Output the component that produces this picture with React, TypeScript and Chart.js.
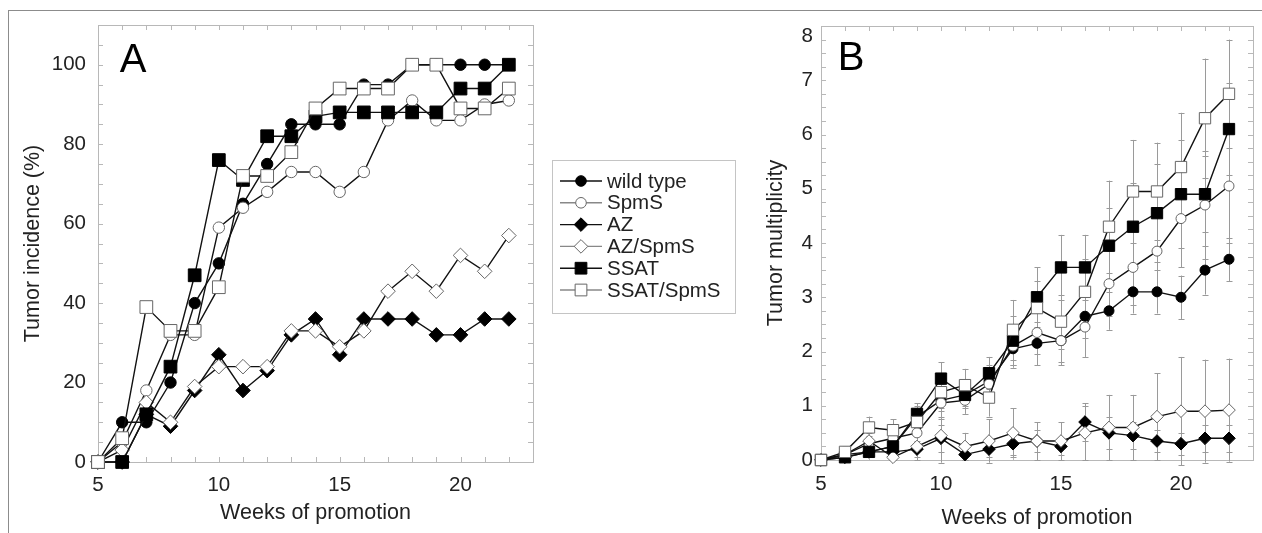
import React, { useEffect, useRef } from 'react';
import { Chart, registerables } from 'chart.js';

Chart.register(...registerables);

// ---------------- data ----------------
const weeks = [5, 6, 7, 8, 9, 10, 11, 12, 13, 14, 15, 16, 17, 18, 19, 20, 21, 22];
const seriesNames = ['wild type', 'SpmS', 'AZ', 'AZ/SpmS', 'SSAT', 'SSAT/SpmS'];

// Panel A: tumor incidence (%)
const incidenceWildType = [0, 10, 10, 20, 40, 50, 65, 75, 85, 85, 85, 95, 95, 100, 100, 100, 100, 100];
const incidenceSpmS = [0, 5, 18, 32, 32, 59, 64, 68, 73, 73, 68, 73, 86, 91, 86, 86, 90, 91];
const incidenceAZ = [0, 0, 12, 9, 18, 27, 18, 23, 32, 36, 27, 36, 36, 36, 32, 32, 36, 36];
const incidenceAZSpmS = [0, 3, 15, 10, 19, 24, 24, 24, 33, 33, 29, 33, 43, 48, 43, 52, 48, 57];
const incidenceSSAT = [0, 0, 12, 24, 47, 76, 71, 82, 82, 87, 88, 88, 88, 88, 88, 94, 94, 100];
const incidenceSSATSpmS = [0, 6, 39, 33, 33, 44, 72, 72, 78, 89, 94, 94, 94, 100, 100, 89, 89, 94];

// Panel B: tumor multiplicity (mean) and error (±)
const multWildType = [0, 0.1, 0.15, 0.25, 0.8, 1.1, 1.2, 1.45, 2.05, 2.15, 2.2, 2.65, 2.75, 3.1, 3.1, 3.0, 3.5, 3.7];
const multSpmS = [0, 0.1, 0.3, 0.4, 0.5, 1.05, 1.1, 1.4, 2.1, 2.35, 2.2, 2.45, 3.25, 3.55, 3.85, 4.45, 4.7, 5.05];
const multAZ = [0, 0.05, 0.15, 0.15, 0.2, 0.4, 0.1, 0.2, 0.3, 0.35, 0.25, 0.7, 0.5, 0.45, 0.35, 0.3, 0.4, 0.4];
const multAZSpmS = [0, 0.1, 0.35, 0.05, 0.25, 0.45, 0.25, 0.35, 0.5, 0.35, 0.35, 0.5, 0.6, 0.6, 0.8, 0.9, 0.9, 0.92];
const multSSAT = [0, 0.05, 0.15, 0.25, 0.85, 1.5, 1.2, 1.6, 2.2, 3.0, 3.55, 3.55, 3.95, 4.3, 4.55, 4.9, 4.9, 6.1];
const multSSATSpmS = [0, 0.15, 0.6, 0.55, 0.7, 1.25, 1.38, 1.15, 2.4, 2.8, 2.55, 3.1, 4.3, 4.95, 4.95, 5.4, 6.3, 6.75];

const errWildType = [0, 0.1, 0.1, 0.15, 0.2, 0.3, 0.2, 0.3, 0.35, 0.4, 0.4, 0.4, 0.35, 0.4, 0.4, 0.4, 0.45, 0.4];
const errSpmS = [0, 0.1, 0.15, 0.2, 0.25, 0.3, 0.25, 0.3, 0.35, 0.4, 0.45, 0.55, 0.6, 0.7, 0.8, 0.9, 1.0, 1.05];
const errAZ = [0, 0.05, 0.1, 0.1, 0.15, 0.25, 0.1, 0.15, 0.2, 0.2, 0.15, 0.35, 0.3, 0.25, 0.2, 0.2, 0.25, 0.25];
const errAZSpmS = [0, 0.1, 0.15, 0.05, 0.25, 0.5, 0.25, 0.4, 0.45, 0.35, 0.35, 0.5, 0.6, 0.6, 0.8, 1.0, 0.95, 0.95];
const errSSAT = [0, 0.05, 0.1, 0.15, 0.2, 0.3, 0.25, 0.3, 0.45, 0.55, 0.6, 0.6, 0.7, 0.8, 0.9, 1.0, 0.7, 0.85];
const errSSATSpmS = [0, 0.1, 0.2, 0.2, 0.25, 0.35, 0.3, 0.35, 0.55, 0.5, 0.5, 0.6, 0.85, 0.95, 0.9, 1.0, 1.1, 1.0];

const incidenceSeries = [incidenceWildType, incidenceSpmS, incidenceAZ, incidenceAZSpmS, incidenceSSAT, incidenceSSATSpmS];
const multSeries = [multWildType, multSpmS, multAZ, multAZSpmS, multSSAT, multSSATSpmS];
const errSeries = [errWildType, errSpmS, errAZ, errAZSpmS, errSSAT, errSSATSpmS];

// ---------------- styles ----------------
type Kind = 'circle' | 'rect' | 'rectRot';
const markerKinds: Kind[] = ['circle', 'circle', 'rectRot', 'rectRot', 'rect', 'rect'];
const markerFilled = [true, false, true, false, true, false];
const drawOrder = [5, 4, 3, 2, 1, 0];
const FONT = "'Liberation Sans', Arial, Helvetica, sans-serif";
const TEXT = '#222';
const OPEN_EDGE = '#666';

function drawMarker(ctx: CanvasRenderingContext2D, kind: Kind, x: number, y: number, r: number, filled: boolean) {
  ctx.beginPath();
  if (kind === 'circle') {
    ctx.arc(x, y, r, 0, Math.PI * 2);
  } else if (kind === 'rect') {
    const s = r * Math.SQRT1_2;
    ctx.rect(x - s, y - s, 2 * s, 2 * s);
  } else {
    ctx.moveTo(x, y - r);
    ctx.lineTo(x + r, y);
    ctx.lineTo(x, y + r);
    ctx.lineTo(x - r, y);
    ctx.closePath();
  }
  ctx.fillStyle = filled ? '#000' : '#fff';
  ctx.fill();
  ctx.lineWidth = 1;
  ctx.strokeStyle = filled ? '#000' : OPEN_EDGE;
  ctx.stroke();
}

function makeDatasets(values: number[][], sizes: Record<Kind, number>) {
  return values.map((vals, i) => ({
    label: seriesNames[i],
    data: weeks.map((w, j) => ({ x: w, y: vals[j] })),
    borderColor: '#111',
    borderWidth: 1.4,
    pointStyle: markerKinds[i],
    pointRadius: sizes[markerKinds[i]],
    pointHoverRadius: sizes[markerKinds[i]],
    pointBackgroundColor: markerFilled[i] ? '#000' : '#fff',
    pointBorderColor: markerFilled[i] ? '#000' : OPEN_EDGE,
    pointBorderWidth: 1,
    order: drawOrder[i],
    clip: false as any,
    tension: 0,
  }));
}

function frameTicksPlugin(xStep: number, yStep: number) {
  return {
    id: 'frameTicks',
    beforeDatasetsDraw(chart: any) {
      const { ctx, chartArea: a, scales } = chart;
      const xs = scales.x, ys = scales.y;
      ctx.save();
      ctx.strokeStyle = '#b8b8b8';
      ctx.lineWidth = 1;
      ctx.strokeRect(Math.round(a.left) + 0.5, Math.round(a.top) + 0.5, Math.round(a.right - a.left), Math.round(a.bottom - a.top));
      const len = 5;
      ctx.beginPath();
      for (let v = xs.min; v <= xs.max + 1e-9; v += xStep) {
        const px = Math.round(xs.getPixelForValue(v)) + 0.5;
        ctx.moveTo(px, a.bottom); ctx.lineTo(px, a.bottom - len);
        ctx.moveTo(px, a.top); ctx.lineTo(px, a.top + len);
      }
      for (let v = ys.min; v <= ys.max + 1e-9; v += yStep) {
        const py = Math.round(ys.getPixelForValue(v)) + 0.5;
        ctx.moveTo(a.left, py); ctx.lineTo(a.left + len, py);
        ctx.moveTo(a.right, py); ctx.lineTo(a.right - len, py);
      }
      ctx.stroke();
      ctx.restore();
    },
  };
}

function letterPlugin(letter: string, dx: number, dy: number) {
  return {
    id: 'panelLetter',
    afterDraw(chart: any) {
      const { ctx, chartArea: a } = chart;
      ctx.save();
      ctx.font = `40px ${FONT}`;
      ctx.fillStyle = '#000';
      ctx.textAlign = 'center';
      ctx.textBaseline = 'middle';
      ctx.fillText(letter, a.left + dx, a.top + dy);
      ctx.restore();
    },
  };
}

// the top tick label of panel B sits slightly below its tick in the original
const topLabelPlugin = {
  id: 'topLabel',
  afterDraw(chart: any) {
    const { ctx, chartArea: a, scales } = chart;
    const ys = scales.y;
    ctx.save();
    ctx.font = `20.5px ${FONT}`;
    ctx.fillStyle = TEXT;
    ctx.textAlign = 'right';
    ctx.textBaseline = 'middle';
    ctx.fillText(String(ys.max), a.left - 8, ys.getPixelForValue(ys.max) + 10);
    ctx.restore();
  },
};

const errorBarPlugin = {
  id: 'errorBars',
  beforeDatasetsDraw(chart: any) {
    const { ctx, scales } = chart;
    const ys = scales.y, xs = scales.x;
    ctx.save();
    ctx.strokeStyle = '#9a9a9a';
    ctx.lineWidth = 1;
    ctx.beginPath();
    errSeries.forEach((errs, i) => {
      weeks.forEach((w, j) => {
        const e = errs[j];
        if (!e) return;
        const v = multSeries[i][j];
        const px = Math.round(xs.getPixelForValue(w)) + 0.5;
        const t = ys.getPixelForValue(v + e);
        const b = ys.getPixelForValue(v - e);
        ctx.moveTo(px, t); ctx.lineTo(px, b);
        ctx.moveTo(px - 3, Math.round(t) + 0.5); ctx.lineTo(px + 3, Math.round(t) + 0.5);
        ctx.moveTo(px - 3, Math.round(b) + 0.5); ctx.lineTo(px + 3, Math.round(b) + 0.5);
      });
    });
    ctx.stroke();
    ctx.restore();
  },
};

const legendPlugin = {
  id: 'customLegend',
  afterDraw(chart: any) {
    const ctx: CanvasRenderingContext2D = chart.ctx;
    ctx.save();
    ctx.strokeStyle = '#c4c4c4';
    ctx.lineWidth = 1;
    ctx.strokeRect(552.5, 160.5, 183, 153);
    const sizes: Record<Kind, number> = { circle: 5.3, rect: 8.3, rectRot: 6.8 };
    seriesNames.forEach((name, i) => {
      const y = 181 + i * 21.8;
      ctx.beginPath();
      ctx.strokeStyle = markerFilled[i] ? '#111' : '#888';
      ctx.lineWidth = 1.4;
      ctx.moveTo(560, y); ctx.lineTo(602, y);
      ctx.stroke();
      drawMarker(ctx, markerKinds[i], 581, y, sizes[markerKinds[i]], markerFilled[i]);
      ctx.fillStyle = TEXT;
      ctx.font = `20.5px ${FONT}`;
      ctx.textAlign = 'left';
      ctx.textBaseline = 'middle';
      ctx.fillText(name, 607, y + 1);
    });
    ctx.restore();
  },
};

function axisX(height: number, tickPad: number, titlePad: number) {
  return {
    type: 'linear' as const,
    min: 5,
    max: 23,
    afterFit: (s: any) => { s.height = height; },
    grid: { display: false, drawTicks: false },
    border: { display: false },
    ticks: {
      stepSize: 5, includeBounds: false, autoSkip: false, maxRotation: 0,
      padding: tickPad, color: TEXT, font: { family: FONT, size: 20.5 },
    },
    title: {
      display: true, text: 'Weeks of promotion', color: TEXT,
      font: { family: FONT, size: 21.5 }, padding: { top: titlePad, bottom: titlePad },
    },
  };
}

function axisY(width: number, min: number, max: number, step: number, tickPad: number, titlePad: number, title: string, hideTop: boolean) {
  return {
    type: 'linear' as const,
    min, max,
    afterFit: (s: any) => { s.width = width; },
    grid: { display: false, drawTicks: false },
    border: { display: false },
    ticks: {
      stepSize: step, includeBounds: false, autoSkip: false,
      padding: tickPad, color: TEXT, font: { family: FONT, size: 20.5 },
      callback: (v: any) => (hideTop && v === max ? '' : String(v)),
    },
    title: {
      display: true, text: title, color: TEXT,
      font: { family: FONT, size: 21.5 }, padding: { top: titlePad, bottom: titlePad },
    },
  };
}

export default function App() {
  const refA = useRef<HTMLCanvasElement>(null);
  const refB = useRef<HTMLCanvasElement>(null);

  useEffect(() => {
    const chartA = new Chart(refA.current!, {
      type: 'line',
      data: { datasets: makeDatasets(incidenceSeries, { circle: 5.7, rect: 9, rectRot: 7.3 }) as any },
      options: {
        animation: false,
        responsive: false,
        devicePixelRatio: 1,
        layout: { padding: { left: 0, right: 207, top: 25, bottom: 0 } },
        plugins: { legend: { display: false }, tooltip: { enabled: false } },
        scales: {
          x: axisX(71, 11, 7) as any,
          y: axisY(98, 0, 110, 20, 12, 20, 'Tumor incidence (%)', false) as any,
        },
      },
      plugins: [frameTicksPlugin(1, 5), letterPlugin('A', 35, 36), legendPlugin],
    });
    const chartB = new Chart(refB.current!, {
      type: 'line',
      data: { datasets: makeDatasets(multSeries, { circle: 5, rect: 8, rectRot: 6.3 }) as any },
      options: {
        animation: false,
        responsive: false,
        devicePixelRatio: 1,
        layout: { padding: { left: 0, right: 7, top: 26, bottom: 0 } },
        plugins: { legend: { display: false }, tooltip: { enabled: false } },
        scales: {
          x: axisX(73, 12, 2) as any,
          y: axisY(81, 0, 8, 1, 8, 23, 'Tumor multiplicity', true) as any,
        },
      },
      plugins: [frameTicksPlugin(1, 0.25), errorBarPlugin, letterPlugin('B', 30, 33), topLabelPlugin],
    });
    return () => { chartA.destroy(); chartB.destroy(); };
  }, []);

  return (
    <div style={{ position: 'absolute', left: 0, top: 0, width: 1262, height: 533, overflow: 'hidden', background: '#fff' }}>
      <div style={{ position: 'absolute', left: 8, top: 10, width: 1300, height: 600, borderTop: '1px solid #8c8c8c', borderLeft: '1px solid #8c8c8c' }} />
      <canvas ref={refA} width={740} height={533} style={{ position: 'absolute', left: 0, top: 0, width: 740, height: 533 }} />
      <canvas ref={refB} width={522} height={533} style={{ position: 'absolute', left: 740, top: 0, width: 522, height: 533 }} />
    </div>
  );
}
